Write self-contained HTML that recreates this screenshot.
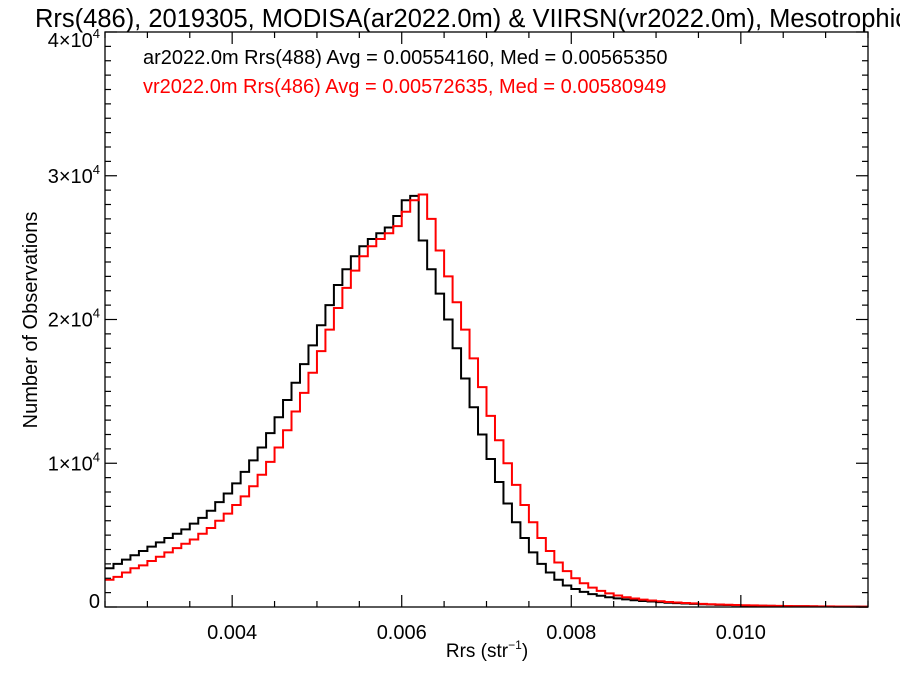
<!DOCTYPE html>
<html><head><meta charset="utf-8"><style>
html,body{margin:0;padding:0;background:#fff;overflow:hidden;}
svg{display:block;font-family:"Liberation Sans",Arial,sans-serif;}
</style></head><body>
<svg id="chart" width="900" height="675" viewBox="0 0 900 675">
<text x="35" y="27" font-size="25.5" fill="#000">Rrs(486), 2019305, MODISA(ar2022.0m) &amp; VIIRSN(vr2022.0m), Mesotrophic</text>
<g id="series"></g>
<g id="axes"></g>
<text x="143" y="64" font-size="20" fill="#000">ar2022.0m Rrs(488) Avg = 0.00554160, Med = 0.00565350</text>
<text x="143" y="93" font-size="20" fill="#ff0000">vr2022.0m Rrs(486) Avg = 0.00572635, Med = 0.00580949</text>
<text x="487" y="657" font-size="19" text-anchor="middle">Rrs (str<tspan font-size="12" dy="-8">−1</tspan><tspan dy="8">)</tspan></text>
<text transform="translate(37,320) rotate(-90)" font-size="20" text-anchor="middle">Number of Observations</text>
</svg>
<script>
const binStart = 0.0025;
const binWidth = 0.0001;
const modisCounts = [2700,3000,3300,3600,3900, 4200,4500,4800,5100,5400, 5800,6200,6700,7300,7900, 8600,9400,10200,11100,12100, 13200,14400,15600,16900,18200, 19600,21000,22400,23500,24400, 25100,25600,26000,26400,27200, 28300,28600,25500,23500,21800, 20000,18000,15900,13900,12000, 10300,8700,7200,5900,4800, 3800,3000,2400,1900,1500, 1250,1050,900,780,680, 600,530,470,420,380, 340,300,270,240,215, 190,170,150,135,120, 105,95,85,75,68, 60,54,48,43,38, 34,30,27,24,21];
const viirsCounts = [1900,2100,2400,2700,2900, 3200,3500,3800,4100,4400, 4700,5100,5500,6000,6500, 7100,7700,8400,9200,10100, 11100,12300,13600,14900,16300, 17800,19300,20800,22200,23400, 24400,25100,25600,26000,26500, 27500,28300,28700,27000,24800, 23000,21200,19300,17300,15300, 13300,11600,10000,8500,7100, 5900,4800,3900,3100,2500, 2000,1650,1350,1120,950, 800,680,590,510,450, 400,350,310,280,250, 220,195,175,155,140, 125,110,100,90,80, 72,64,57,51,46, 41,37,33,30,27];
const xTicks = [0.004,0.006,0.008,0.010];
const xTickLabels = ["0.004","0.006","0.008","0.010"];
const yTicks = [0,10000,20000,30000,40000];
const yTickMant = ["0","1","2","3","4"];

const NS="http://www.w3.org/2000/svg";
const L=105,R=868,T=32,B=607, xMin=0.0025,xMax=0.0115,yMax=40000;
const xs=v=>L+(v-xMin)/(xMax-xMin)*(R-L);
const ys=v=>B-v/yMax*(B-T);
function mk(tag,attrs,parent){const e=document.createElementNS(NS,tag);for(const k in attrs)e.setAttribute(k,attrs[k]);parent.appendChild(e);return e;}

const sg=document.getElementById('series');
function hist(counts,color,name){
  let d="";
  counts.forEach((c,i)=>{const x0=xs(binStart+i*binWidth),x1=xs(binStart+(i+1)*binWidth),y=ys(c);
    d+=(i===0?"M"+x0+","+y:"L"+x0+","+y)+"L"+x1+","+y;});
  const p=mk('path',{d:d,fill:'none',stroke:color,'stroke-width':2},sg);
  
  
}
hist(modisCounts,'#000','modisa-histogram');
hist(viirsCounts,'#ff0000','viirs-histogram');

const ag=document.getElementById('axes');
const frame=mk('rect',{x:L,y:T,width:R-L,height:B-T,fill:'none',stroke:'#000','stroke-width':1.3},ag);


for(let v=0.0025;v<=0.01150001;v+=0.0005){const x=xs(v);const major=xTicks.some(t=>Math.abs(t-v)<1e-9);const len=major?12:6;
  mk('line',{x1:x,x2:x,y1:B,y2:B-len,stroke:'#000','stroke-width':1.2},ag);
  mk('line',{x1:x,x2:x,y1:T,y2:T+len,stroke:'#000','stroke-width':1.2},ag);}
xTicks.forEach((v,i)=>{const t=mk('text',{x:xs(v),y:639,'font-size':20,'text-anchor':'middle'},ag);t.textContent=xTickLabels[i];
  
  });
for(let v=0;v<=40000;v+=1000){const y=ys(v);const major=v%10000===0;const len=major?12:6;
  mk('line',{x1:L,x2:L+len,y1:y,y2:y,stroke:'#000','stroke-width':1.2},ag);
  mk('line',{x1:R,x2:R-len,y1:y,y2:y,stroke:'#000','stroke-width':1.2},ag);}
yTicks.forEach((v,i)=>{let y=Math.min(Math.max(ys(v),40),601)+7;
  const t=mk('text',{x:100,y:y,'font-size':20,'text-anchor':'end'},ag);
  
  
  if(v===0){t.textContent="0";}else{t.textContent=yTickMant[i]+"×10";const s=document.createElementNS(NS,'tspan');s.setAttribute('font-size','13');s.setAttribute('dy','-9');s.textContent="4";t.appendChild(s);}});
</script>
</body></html>
